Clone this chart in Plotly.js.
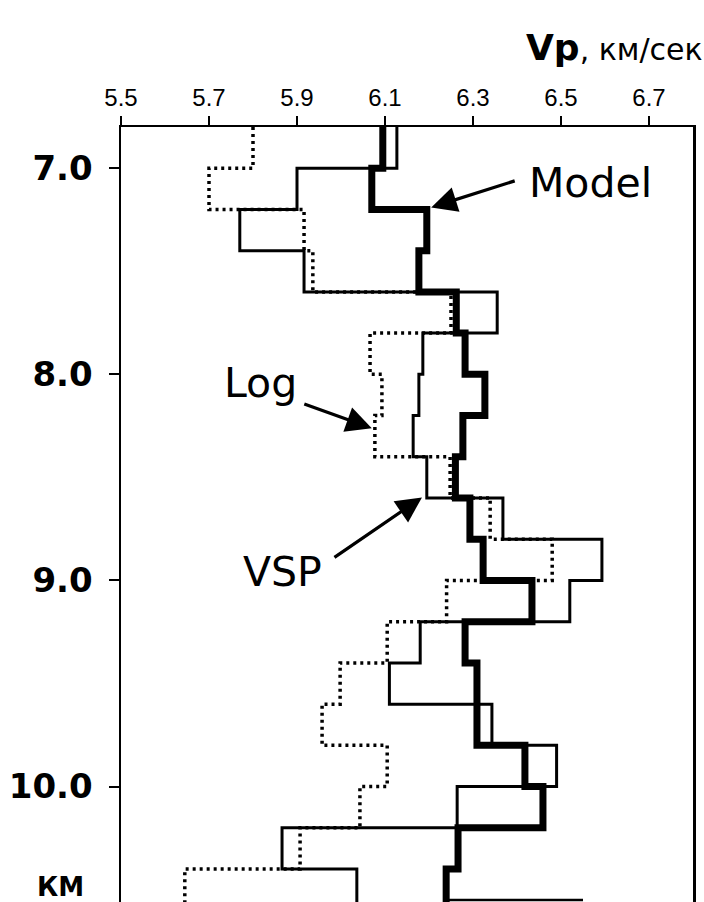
<!DOCTYPE html>
<html>
<head>
<meta charset="utf-8">
<script src="https://cdn.plot.ly/plotly-3.0.1.min.js"></script>
<style>
  html, body { margin: 0; padding: 0; background: #fff; overflow: hidden; }
  #graph { width: 704px; height: 902px; }
</style>
</head>
<body>
<div id="graph"></div>
<script>
// layer tops in km (layers are 0.2 km thick); the panel is cut at depthBottom
const depthTops = [6.8, 7.0, 7.2, 7.4, 7.6, 7.8, 8.0, 8.2, 8.4, 8.6, 8.8, 9.0, 9.2, 9.4, 9.6, 9.8, 10.0, 10.2, 10.4];
const depthBottom = 10.56;

// Vp, km/s for each layer
const vpModel = [6.095, 6.07, 6.195, 6.177, 6.262, 6.282, 6.327, 6.277, 6.26, 6.293, 6.323, 6.434, 6.282, 6.309, 6.309, 6.418, 6.459, 6.266, 6.239];
const vpVSP   = [6.127, 5.90, 5.77, 5.916, 6.355, 6.186, 6.177, 6.164, 6.195, 6.368, 6.593, 6.52, 6.18, 6.11, 6.343, 6.49, 6.264, 5.866, 6.036];
const vpLog   = [5.80, 5.70, 5.916, 5.936, 6.25, 6.066, 6.093, 6.077, 6.248, 6.339, 6.48, 6.24, 6.105, 5.998, 5.957, 6.105, 6.043, 5.907, 5.645];

// short thin line at the foot of the panel
const baseVp = [6.24, 6.55];
const baseDepth = [10.55, 10.55];

const xTicks = [5.5, 5.7, 5.9, 6.1, 6.3, 6.5, 6.7];
const yTicks = [7, 8, 9, 10];
const yTickText = ['7.0', '8.0', '9.0', '10.0'];

// stairs: vertical inside a layer, horizontal at the layer boundary
function stairs(values) {
  return {
    x: values.concat([values[values.length - 1]]),
    y: depthTops.concat([depthBottom])
  };
}

const log = stairs(vpLog), vsp = stairs(vpVSP), model = stairs(vpModel);

const data = [
  { x: log.x, y: log.y, name: 'Log', mode: 'lines', type: 'scatter',
    line: { shape: 'vh', color: '#000', width: 3.5, dash: '3px,4px' } },
  { x: vsp.x, y: vsp.y, name: 'VSP', mode: 'lines', type: 'scatter',
    line: { shape: 'vh', color: '#000', width: 3 } },
  { x: model.x, y: model.y, name: 'Model', mode: 'lines', type: 'scatter',
    line: { shape: 'vh', color: '#000', width: 7 } },
  { x: baseVp, y: baseDepth, name: 'base', mode: 'lines', type: 'scatter',
    line: { color: '#000', width: 2.5 } }
];

const labelFont = { family: 'DejaVu Sans', size: 41, color: '#000' };
const arrow = { text: '', showarrow: true, arrowhead: 2, arrowsize: 1.6, arrowwidth: 3.2, arrowcolor: '#000' };

const layout = {
  width: 704, height: 902,
  margin: { l: 121, r: 11, t: 127, b: 0 },
  paper_bgcolor: '#fff', plot_bgcolor: '#fff',
  showlegend: false,
  xaxis: {
    side: 'top', range: [5.5, 6.8],
    tickvals: xTicks, ticktext: xTicks.map(v => v.toFixed(1)),
    ticks: 'outside', ticklen: 9, tickwidth: 2, tickcolor: '#000',
    ticklabelstandoff: 0,
    showline: true, linewidth: 2.5, linecolor: '#000', mirror: false,
    showgrid: false, zeroline: false,
    tickfont: { family: 'Liberation Sans, Arial', size: 24, color: '#000' }
  },
  yaxis: {
    range: [depthBottom, 6.8],
    tickvals: yTicks, ticktext: yTickText,
    ticks: 'outside', ticklen: 10, tickwidth: 2, tickcolor: '#000',
    ticklabelstandoff: 9,
    showline: true, linewidth: 2.5, linecolor: '#000', mirror: true,
    showgrid: false, zeroline: false,
    tickfont: { family: 'DejaVu Sans', size: 34, weight: 'bold', color: '#000' }
  },
  annotations: [
    { x: 6.568, y: 7.073, text: 'Model', showarrow: false, xanchor: 'center', yanchor: 'middle', font: labelFont },
    { x: 5.816, y: 8.044, text: 'Log', showarrow: false, xanchor: 'center', yanchor: 'middle', font: labelFont },
    { x: 5.868, y: 8.961, text: 'VSP', showarrow: false, xanchor: 'center', yanchor: 'middle', font: labelFont },
    Object.assign({ x: 6.205, y: 7.19, ax: 85, ay: -27 }, arrow),
    Object.assign({ x: 6.07, y: 8.262, ax: -69, ay: -25 }, arrow),
    Object.assign({ x: 6.184, y: 8.597, ax: -89, ay: 61 }, arrow),
    { xref: 'paper', yref: 'paper', x: 0.862, y: 1.102, xanchor: 'center', yanchor: 'middle', showarrow: false,
      text: '<b>Vp</b><span style="font-size:30px">, км/сек</span>',
      font: { family: 'DejaVu Sans', size: 36, color: '#000' } },
    { xref: 'paper', yref: 'paper', x: -0.1066, y: 0.019, xanchor: 'center', yanchor: 'middle', showarrow: false,
      text: '<b>КМ</b>', font: { family: 'DejaVu Sans', size: 26, color: '#000' } }
  ]
};

Plotly.newPlot('graph', data, layout, { displayModeBar: false, staticPlot: true });
</script>
</body>
</html>
